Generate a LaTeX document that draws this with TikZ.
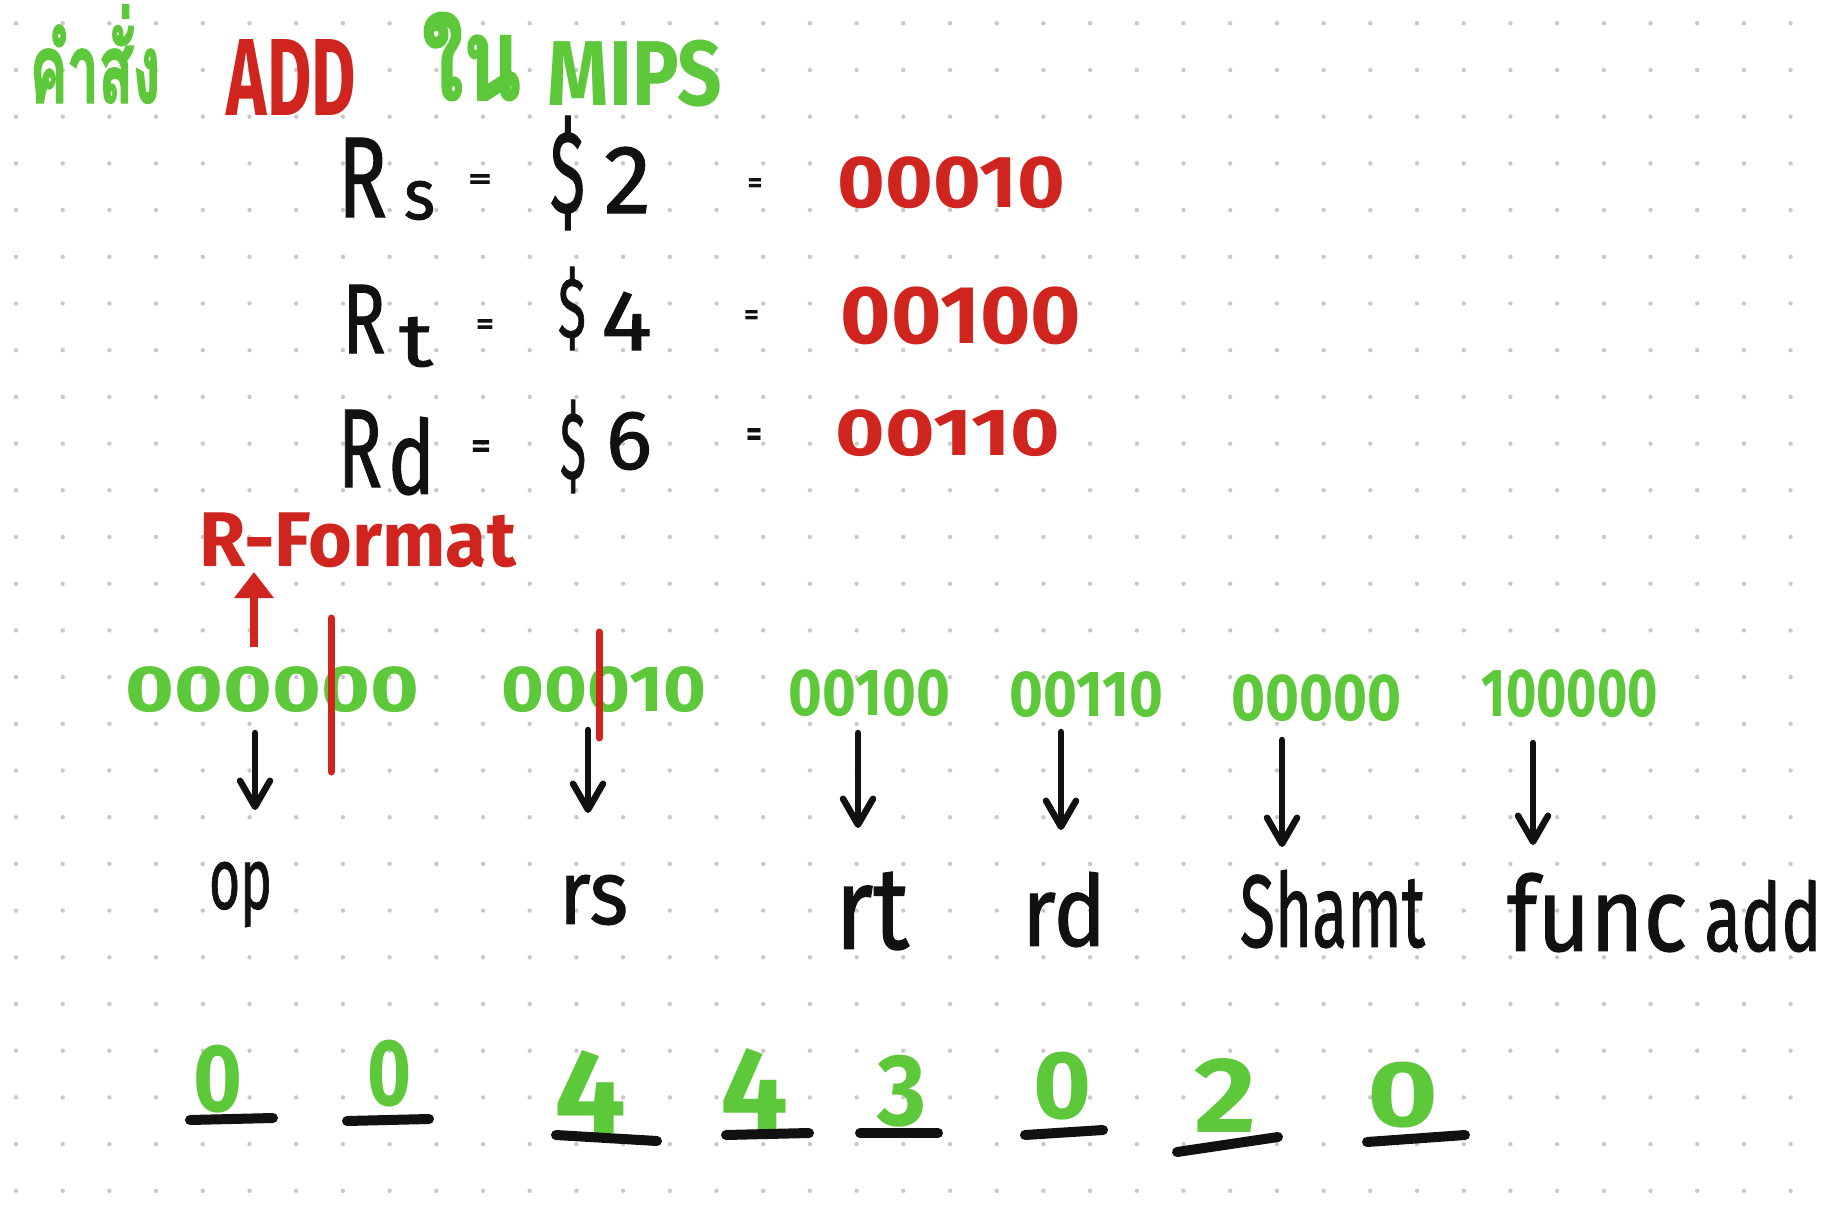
\documentclass[tikz,border=0pt]{standalone}
\usepackage{fontspec}
\usepackage{graphicx}
\usetikzlibrary{arrows.meta}
\setmainfont{Fira Sans}
\newfontfamily\inkfont[FakeBold=1.2]{Fira Sans}
\newfontfamily\thaifont[Script=Thai,FakeBold=2.5]{Loma}
\definecolor{pengreen}{RGB}{92,200,58}
\definecolor{penred}{RGB}{208,36,30}
\definecolor{penink}{RGB}{17,17,17}
\definecolor{dotgray}{RGB}{200,200,200}
\newcommand{\fitb}[3]{\resizebox*{#1pt}{#2pt}{\bfseries #3}}
\newcommand{\fitr}[3]{\resizebox*{#1pt}{#2pt}{\inkfont #3}}
\begin{document}
\begin{tikzpicture}[x=1pt,y=-1pt,
  txt/.style={inner sep=0pt,outer sep=0pt},
  gtxt/.style={txt,text=pengreen},
  rtxt/.style={txt,text=penred},
  ktxt/.style={txt,text=penink},
  dnarrow/.style={draw=penink,line width=6.5pt,line cap=round,
    -{Straight Barb[length=26pt,width=30pt,line width=6.5pt,round]}},
  redbar/.style={draw=penred,line width=7pt,line cap=round},
  uline/.style={draw=penink,line width=10pt,line cap=round}]
\useasboundingbox (0,0) rectangle (1836,1230);
\fill[white] (0,0) rectangle (1836,1230);
% dot grid
\foreach \i in {0,...,38}{
  \foreach \j in {0,...,25}{
    \fill[dotgray] ({16+46.7*\i},{23.3+46.7*\j}) circle (2.2);
  }
}
% title
\node[gtxt] (t1) at (95,54) {\fitb{130}{98}{\thaifont คำสั่ง}};
\node[rtxt] (t2) at (291.5,78) {\fitb{129}{76}{ADD}};
\node[gtxt] (t3) at (471.5,56.5) {\fitb{99}{87}{\thaifont ใน}};
\node[gtxt] (t4) at (635,73.5) {\fitb{174}{67}{MIPS}};
% Rs row
\node[ktxt] (rsR) at (362.5,177.5) {\fitr{49}{79}{R}};
\node[ktxt] (rsS) at (419.5,200.5) {\fitr{31}{39}{s}};
\node[ktxt] (rsEq) at (480,182) {\fitb{24}{15}{=}};
\node[ktxt] (rsDol) at (567.5,173) {\fitr{35}{114}{\$}};
\node[ktxt] (rsNum) at (627.5,180) {\fitr{47}{66}{2}};
\node[ktxt] (rsEqB) at (755,185.5) {\fitb{15}{14}{=}};
\node[rtxt] (rsBin) at (951.5,183) {\fitb{227}{52}{00010}};
% Rt row
\node[ktxt] (rtR) at (364,319) {\fitr{43}{68}{R}};
\node[ktxt] (rtT) at (416,342) {\fitr{34}{50}{t}};
\node[ktxt] (rtEq) at (485,326.5) {\fitb{18}{15}{=}};
\node[ktxt] (rtDol) at (572,308.5) {\fitr{28}{83}{\$}};
\node[ktxt] (rtNum) at (626.5,321) {\fitr{51}{58}{4}};
\node[ktxt] (rtEqB) at (751.5,318) {\fitb{15}{14}{=}};
\node[rtxt] (rtBin) at (961,316) {\fitb{240}{58}{00100}};
% Rd row
\node[ktxt] (rdR) at (360,448.5) {\fitr{44}{77}{R}};
\node[ktxt] (rdD) at (411.5,456) {\fitr{47}{78}{d}};
\node[ktxt] (rdEq) at (481,449) {\fitb{20}{18}{=}};
\node[ktxt] (rdDol) at (573,446.5) {\fitr{26}{93}{\$}};
\node[ktxt] (rdNum) at (629,441) {\fitr{46}{58}{6}};
\node[ktxt] (rdEqB) at (754,437) {\fitb{16}{18}{=}};
\node[rtxt] (rdBin) at (948,433.5) {\fitb{224}{47}{00110}};
% R-Format
\node[rtxt] (rfmt) at (358,540) {\fitb{316}{55}{R-Format}};
% binary fields
\node[gtxt] (b1) at (272.5,690) {\fitb{293}{46}{000000}};
\node[gtxt] (b2) at (604,690) {\fitb{204}{46}{00010}};
\node[gtxt] (b3) at (869.5,693.5) {\fitb{161}{47}{00100}};
\node[gtxt] (b4) at (1086.5,695) {\fitb{153}{46}{00110}};
\node[gtxt] (b5) at (1316,698.5) {\fitb{170}{47}{00000}};
\node[gtxt] (b6) at (1570,694) {\fitb{176}{48}{100000}};
% red marks
\coordinate (rbar1a) at (331,618);
\coordinate (rbar1b) at (331,772);
\coordinate (rbar2a) at (599,632);
\coordinate (rbar2b) at (599,738);
\draw[redbar] (rbar1a) -- (rbar1b);
\draw[redbar] (rbar2a) -- (rbar2b);
\coordinate (rarA) at (254,647);
\coordinate (rarB) at (254,572);
\draw[draw=penred,line width=8pt,-{Triangle[length=26pt,width=38pt]}] (rarA) -- (rarB);
% field labels
\node[ktxt] (lop) at (240.5,894.5) {\fitr{63}{65}{op}};
\node[ktxt] (lrs) at (593.5,900) {\fitr{69}{50}{rs}};
\node[ktxt] (lrt) at (872,911) {\fitr{74}{78}{rt}};
\node[ktxt] (lrd) at (1064,909.5) {\fitr{84}{75}{rd}};
\node[ktxt] (lsh) at (1332.5,909) {\fitr{185}{78}{Shamt}};
\node[ktxt] (lfu) at (1597,912.5) {\fitr{180}{79}{func}};
\node[ktxt] (lad) at (1763,916) {\fitr{117}{72}{add}};
% down arrows
\coordinate (aopA) at (255,733);  \coordinate (aopB) at (255,810);
\coordinate (arsA) at (588,730);  \coordinate (arsB) at (588,813);
\coordinate (artA) at (858,733);  \coordinate (artB) at (858,828);
\coordinate (ardA) at (1061,732); \coordinate (ardB) at (1061,830);
\coordinate (ashA) at (1282,740); \coordinate (ashB) at (1282,847);
\coordinate (afuA) at (1533,743); \coordinate (afuB) at (1533,845);
\draw[dnarrow] (aopA) -- (aopB);
\draw[dnarrow] (arsA) -- (arsB);
\draw[dnarrow] (artA) -- (artB);
\draw[dnarrow] (ardA) -- (ardB);
\draw[dnarrow] (ashA) -- (ashB);
\draw[dnarrow] (afuA) -- (afuB);
% bottom digits
\node[gtxt] (d1) at (218.5,1079) {\fitb{49}{68}{0}};
\node[gtxt] (d2) at (390,1073.5) {\fitb{44}{67}{0}};
\node[gtxt] (d3) at (591,1091.5) {\fitb{72}{83}{4}};
\node[gtxt] (d4) at (754,1089) {\fitb{68}{82}{4}};
\node[gtxt] (d5) at (901.5,1091) {\fitb{49}{72}{3}};
\node[gtxt] (d6) at (1062,1086) {\fitb{58}{68}{0}};
\node[gtxt] (d7) at (1225,1095) {\fitb{62}{74}{2}};
\node[gtxt] (d8) at (1403.5,1095) {\fitb{71}{66}{0}};
% underlines
\coordinate (u1a) at (190,1120);  \coordinate (u1b) at (273,1118);
\coordinate (u2a) at (347,1121);  \coordinate (u2b) at (429,1119);
\coordinate (u3a) at (556,1135);  \coordinate (u3b) at (657,1141);
\coordinate (u4a) at (726,1135);  \coordinate (u4b) at (809,1133);
\coordinate (u5a) at (860,1133);  \coordinate (u5b) at (938,1133);
\coordinate (u6a) at (1025,1135); \coordinate (u6b) at (1103,1130);
\coordinate (u7a) at (1177,1152); \coordinate (u7b) at (1278,1137);
\coordinate (u8a) at (1367,1142); \coordinate (u8b) at (1465,1135);
\foreach \u in {1,...,8}{\draw[uline] (u\u a) -- (u\u b);}
\end{tikzpicture}
\end{document}
